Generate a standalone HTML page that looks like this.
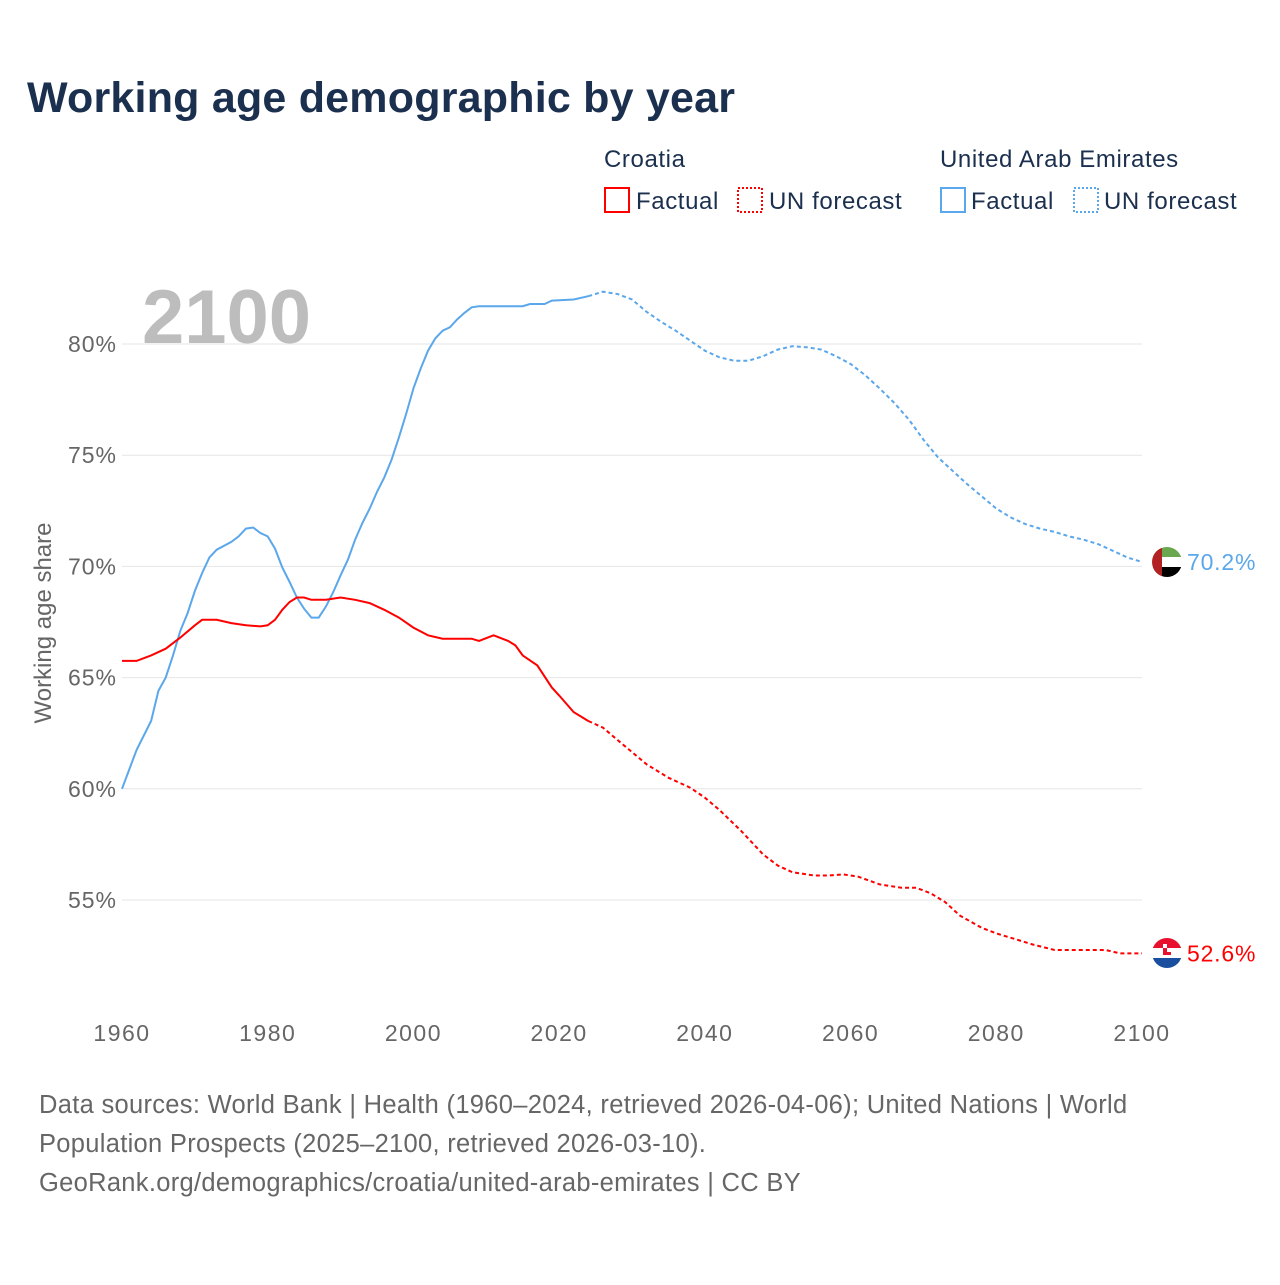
<!DOCTYPE html>
<html><head><meta charset="utf-8"><style>
body{margin:0;background:#fff;font-family:"Liberation Sans",sans-serif}
svg text{font-family:"Liberation Sans",sans-serif}
</style></head><body>
<svg id="chart" width="1280" height="1280" xmlns="http://www.w3.org/2000/svg">
<text x="27" y="112" font-size="43" font-weight="bold" fill="#1b2f4e" textLength="708">Working age demographic by year</text>
<g font-size="24" fill="#1b2f4e" letter-spacing="0.6">
<text x="604" y="167">Croatia</text>
<text x="940" y="167">United Arab Emirates</text>
<g><rect x="605" y="188" width="24" height="24" fill="none" stroke="#ff0000" stroke-width="2"/><text x="636" y="209">Factual</text></g>
<g><rect x="738" y="188" width="24" height="24" fill="none" stroke="#ff0000" stroke-width="2" stroke-dasharray="2,2"/><text x="769" y="209">UN forecast</text></g>
<g><rect x="941" y="188" width="24" height="24" fill="none" stroke="#5ba7eb" stroke-width="2"/><text x="971" y="209">Factual</text></g>
<g><rect x="1074" y="188" width="24" height="24" fill="none" stroke="#5ba7eb" stroke-width="2" stroke-dasharray="2,2"/><text x="1104" y="209">UN forecast</text></g>
</g>
<text x="142" y="343" font-size="76" font-weight="bold" fill="#bdbdbd">2100</text>
<g id="grid"></g>
<text transform="translate(51,623) rotate(-90)" text-anchor="middle" font-size="24" fill="#666">Working age share</text>
<g id="series"></g>
<g font-size="25.5" fill="#666" letter-spacing="0.3">
<text x="39" y="1113">Data sources: World Bank | Health (1960–2024, retrieved 2026-04-06); United Nations | World</text>
<text x="39" y="1152">Population Prospects (2025–2100, retrieved 2026-03-10).</text>
<text x="39" y="1191">GeoRank.org/demographics/croatia/united-arab-emirates | CC BY</text>
</g>
<g>
<clipPath id="c1"><circle cx="1167" cy="562" r="15"/></clipPath>
<g clip-path="url(#c1)"><rect x="1152" y="547" width="30" height="10" fill="#6aa84f"/><rect x="1152" y="557" width="30" height="10" fill="#fff"/><rect x="1152" y="567" width="30" height="10" fill="#000"/><rect x="1152" y="547" width="10" height="30" fill="#b22222"/></g>
</g>
<g>
<clipPath id="c2"><circle cx="1167" cy="953" r="15"/></clipPath>
<g clip-path="url(#c2)"><rect x="1152" y="938" width="30" height="10" fill="#e8112d"/><rect x="1152" y="948" width="30" height="10" fill="#fff"/><rect x="1152" y="958" width="30" height="10" fill="#1a4fa0"/><rect x="1163" y="944" width="8" height="11" fill="#e8112d"/><rect x="1163" y="944" width="4" height="4" fill="#fff"/><rect x="1167" y="948" width="4" height="4" fill="#fff"/></g>
</g>
</svg>
<script>
const years=[1960,1962,1964,1966,1968,1970,1971,1973,1975,1977,1979,1980,1981,1982,1983,1984,1985,1986,1988,1990,1992,1994,1996,1998,2000,2002,2004,2008,2009,2011,2013,2014,2015,2017,2019,2020,2022,2024,2026,2028,2030,2032,2035,2038,2040,2042,2045,2048,2050,2052,2055,2057,2059,2061,2064,2067,2069,2071,2073,2075,2078,2080,2083,2085,2088,2093,2095,2097,2100];
const croatia=[65.75,65.75,66.0,66.3,66.8,67.35,67.6,67.6,67.45,67.35,67.3,67.35,67.6,68.05,68.4,68.6,68.6,68.5,68.5,68.6,68.5,68.35,68.05,67.7,67.25,66.9,66.75,66.75,66.65,66.9,66.65,66.45,66.0,65.55,64.55,64.2,63.45,63.05,62.75,62.2,61.65,61.1,60.5,60.05,59.6,59.05,58.1,57.05,56.55,56.25,56.1,56.1,56.15,56.05,55.7,55.55,55.55,55.3,54.9,54.3,53.75,53.5,53.2,53.0,52.75,52.75,52.75,52.6,52.6];
const uaeYears=[1960,1962,1964,1965,1966,1967,1968,1969,1970,1971,1972,1973,1975,1976,1977,1978,1979,1980,1981,1982,1983,1984,1985,1986,1987,1988,1989,1990,1991,1992,1993,1994,1995,1996,1997,1998,1999,2000,2001,2002,2003,2004,2005,2006,2007,2008,2009,2015,2016,2018,2019,2022,2024,2026,2028,2030,2032,2034,2036,2038,2040,2042,2044,2046,2048,2050,2052,2054,2056,2058,2060,2062,2064,2066,2068,2070,2072,2074,2076,2078,2080,2082,2084,2086,2088,2090,2092,2094,2096,2098,2100];
const uae=[60.0,61.75,63.05,64.4,65.0,66.0,67.1,67.9,68.9,69.7,70.4,70.75,71.1,71.35,71.7,71.75,71.5,71.35,70.8,69.95,69.3,68.6,68.1,67.7,67.7,68.2,68.85,69.6,70.3,71.2,71.95,72.6,73.35,74.0,74.8,75.8,76.85,78.0,78.9,79.7,80.25,80.6,80.75,81.1,81.4,81.65,81.7,81.7,81.8,81.8,81.95,82.0,82.15,82.35,82.25,82.0,81.45,81.0,80.6,80.15,79.7,79.4,79.25,79.25,79.45,79.75,79.9,79.85,79.75,79.45,79.1,78.6,78.0,77.35,76.6,75.7,74.9,74.3,73.7,73.15,72.6,72.2,71.9,71.7,71.55,71.35,71.2,71.0,70.7,70.4,70.2];
const yTicks=[55,60,65,70,75,80];
const xTicks=[1960,1980,2000,2020,2040,2060,2080,2100];
const forecastStart=2025;
const NS="http://www.w3.org/2000/svg";
const X=y=>122+(y-1960)*(1020/140);
const Y=v=>344+(80-v)*22.24;
function el(t,a,p){const e=document.createElementNS(NS,t);for(const k in a)e.setAttribute(k,a[k]);p.appendChild(e);return e;}
const grid=document.getElementById('grid');
yTicks.forEach(t=>{
 const l=el('line',{x1:122,x2:1142,y1:Y(t),y2:Y(t),stroke:'#e6e6e6','stroke-width':1},grid);
 
 
 const tx=el('text',{x:117,y:Y(t)+8,'text-anchor':'end','font-size':23,'letter-spacing':1,fill:'#666'},grid);
 tx.textContent=t+'%';
 
 
});
xTicks.forEach(t=>{
 const tx=el('text',{x:X(t),y:1041,'text-anchor':'middle','font-size':23,'letter-spacing':1.5,fill:'#666'},grid);
 tx.textContent=t;
 
 
});
const sg=document.getElementById('series');
function draw(ys,vs,color,name){
 const fact=[],fc=[];
 ys.forEach((y,i)=>{if(y<=forecastStart)fact.push([y,vs[i]]);if(y>=2024)fc.push([y,vs[i]]);});
 const d=a=>a.map((p,i)=>(i?'L':'M')+X(p[0]).toFixed(1)+','+Y(p[1]).toFixed(1)).join('');
 const a=el('path',{d:d(fact),fill:'none',stroke:color,'stroke-width':2},sg);
 
 
 const b=el('path',{d:d(fc),fill:'none',stroke:color,'stroke-width':2,'stroke-dasharray':'4,3'},sg);
 
 
 const last=vs[vs.length-1];
 const t=el('text',{x:1187,y:Y(last)+8,'font-size':23,'letter-spacing':0.8,fill:color},sg);
 t.textContent=last.toFixed(1)+'%';
 
 
}
draw(uaeYears,uae,'#5ba7eb','uae');
draw(years,croatia,'#ff0000','croatia');
</script>
</body></html>
